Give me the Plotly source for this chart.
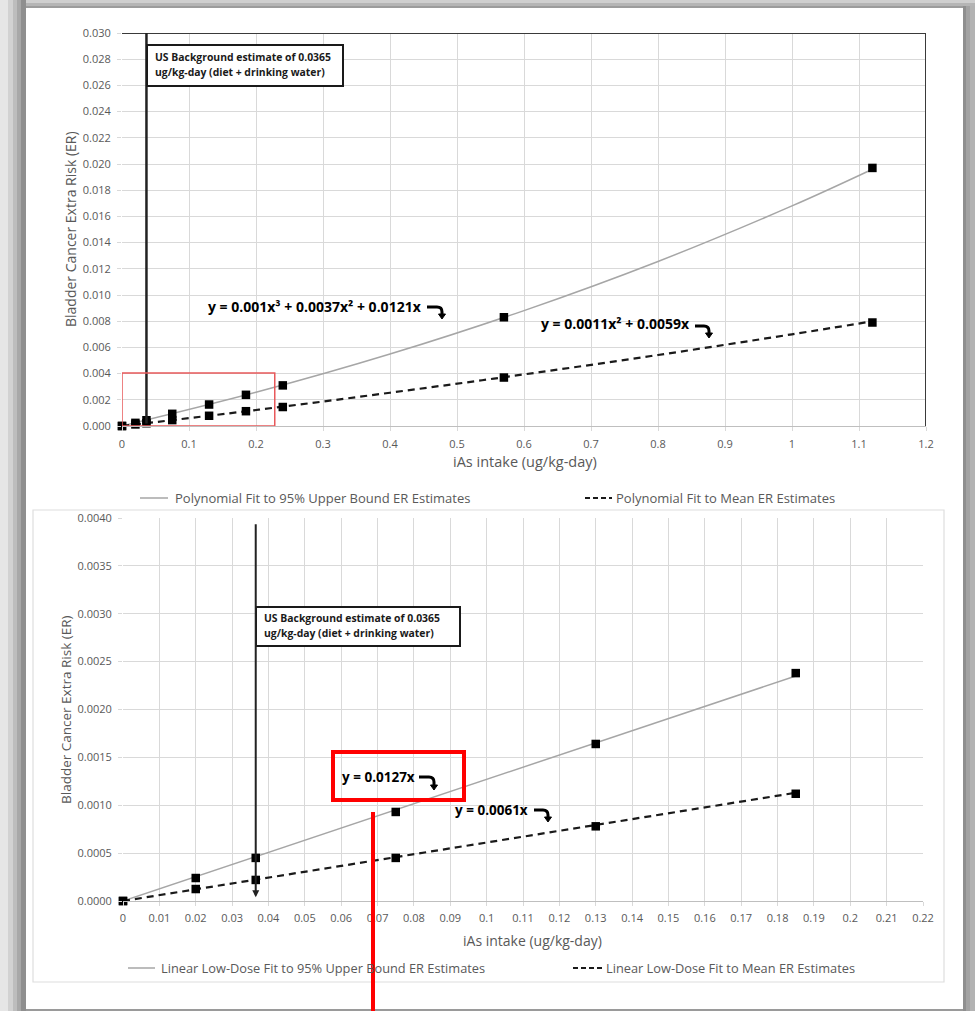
import plotly.graph_objects as go

# ---------------- data ----------------
# dose points (ug/kg-day)
top_x = [0, 0.02, 0.0365, 0.075, 0.13, 0.185, 0.24, 0.57, 1.12]
top_upper = [0, 0.00024, 0.00044, 0.00093, 0.00164, 0.00238, 0.0031, 0.0083, 0.0197]
top_mean = [0, 0.00012, 0.00021, 0.00045, 0.00078, 0.00113, 0.00145, 0.0037, 0.0079]

# fitted curves
fit_x = [0, 0.2, 0.4, 0.6, 0.8, 1.0, 1.12]
fit_upper = [0, 0.00257, 0.00549, 0.00881, 0.01256, 0.0168, 0.0196]
fit_mean = [0, 0.00122, 0.00254, 0.00394, 0.00542, 0.0070, 0.00799]

bot_x = [0, 0.02, 0.0365, 0.075, 0.13, 0.185]
bot_upper = [0, 0.00024, 0.00045, 0.00093, 0.00164, 0.00238]
bot_mean = [0, 0.000125, 0.00022, 0.00045, 0.00078, 0.00112]

lin_x = [0, 0.185]
lin_upper = [0, 0.00235]
lin_mean = [0, 0.00113]

bg_intake = 0.0365

top_xticks = [0, 0.1, 0.2, 0.3, 0.4, 0.5, 0.6, 0.7, 0.8, 0.9, 1.0, 1.1, 1.2]
top_xtext = ["0", "0.1", "0.2", "0.3", "0.4", "0.5", "0.6", "0.7", "0.8", "0.9", "1", "1.1", "1.2"]
top_yticks = [i * 0.002 for i in range(16)]
top_ytext = ["%.3f" % v for v in top_yticks]

bot_xticks = [i / 100 for i in range(23)]
bot_xtext = ["0"] + ["%g" % (i / 100) for i in range(1, 23)]
bot_yticks = [i * 0.0005 for i in range(9)]
bot_ytext = ["%.4f" % v for v in bot_yticks]

title_y = "Bladder Cancer Extra Risk (ER)"
title_x = "iAs intake (ug/kg-day)"
bg_text = ["US Background estimate of 0.0365", "ug/kg-day (diet + drinking water)"]
top_legend = ["Polynomial Fit to 95% Upper Bound ER Estimates", "Polynomial Fit to Mean ER Estimates"]
bot_legend = ["Linear Low-Dose Fit to 95% Upper Bound ER Estimates", "Linear Low-Dose Fit to Mean ER Estimates"]
top_eq = ["y = 0.001x³ + 0.0037x² + 0.0121x", "y = 0.0011x² + 0.0059x"]
bot_eq = ["y = 0.0127x", "y = 0.0061x"]

# ---------------- helpers ----------------
W, H = 975, 1011
FONT = "Open Sans"
TICK_COLOR = "#595959"
GRID = "#d9d9d9"
UP_COLOR = "#a6a6a6"


def px(x):
    return x / W


def py(y):
    return 1 - y / H


fig = go.Figure()

# top chart traces
fig.add_trace(go.Scatter(x=fit_x, y=fit_upper, mode="lines", line=dict(color=UP_COLOR, width=1.5, shape="spline"),
                         xaxis="x", yaxis="y", showlegend=False, hoverinfo="skip"))
fig.add_trace(go.Scatter(x=fit_x, y=fit_mean, mode="lines", line=dict(color="#1a1a1a", width=2.2, dash="7px,5px", shape="spline"),
                         xaxis="x", yaxis="y", showlegend=False, hoverinfo="skip"))
for ys in (top_upper, top_mean):
    fig.add_trace(go.Scatter(x=top_x, y=ys, mode="markers", cliponaxis=False,
                             marker=dict(symbol="square", size=8.5, color="#000000"),
                             xaxis="x", yaxis="y", showlegend=False))

# bottom chart traces
fig.add_trace(go.Scatter(x=lin_x, y=lin_upper, mode="lines", line=dict(color=UP_COLOR, width=1.5),
                         xaxis="x2", yaxis="y2", showlegend=False, hoverinfo="skip"))
fig.add_trace(go.Scatter(x=lin_x, y=lin_mean, mode="lines", line=dict(color="#1a1a1a", width=2.2, dash="7px,5px"),
                         xaxis="x2", yaxis="y2", showlegend=False, hoverinfo="skip"))
for ys in (bot_upper, bot_mean):
    fig.add_trace(go.Scatter(x=bot_x, y=ys, mode="markers", cliponaxis=False,
                             marker=dict(symbol="square", size=8.5, color="#000000"),
                             xaxis="x2", yaxis="y2", showlegend=False))

axis_common = dict(showgrid=True, gridcolor=GRID, gridwidth=1, zeroline=False, automargin=False,
                   ticks="outside", ticklen=4, tickcolor=GRID,
                   tickfont=dict(family=FONT, size=11, color=TICK_COLOR), fixedrange=True)

fig.update_layout(
    width=W, height=H,
    margin=dict(l=0, r=0, t=0, b=0, pad=0),
    paper_bgcolor="#ffffff",
    plot_bgcolor="rgba(0,0,0,0)",
    xaxis=dict(domain=[px(122), px(926)], range=[0, 1.2], anchor="y", ticklabelstandoff=4,
               tickvals=top_xticks, ticktext=top_xtext, showline=True, linecolor="#bfbfbf", **axis_common),
    yaxis=dict(domain=[py(426), py(33)], range=[0, 0.030], anchor="x", ticklabelstandoff=4,
               tickvals=top_yticks, ticktext=top_ytext, **axis_common),
    xaxis2=dict(domain=[px(123), px(923)], range=[0, 0.22], anchor="y2", ticklabelstandoff=3,
                tickvals=bot_xticks, ticktext=bot_xtext, showline=True, linecolor="#bfbfbf", **axis_common),
    yaxis2=dict(domain=[py(901), py(518)], range=[0, 0.004], anchor="x2", ticklabelstandoff=4,
                tickvals=bot_yticks, ticktext=bot_ytext, **axis_common),
)

shapes = []
# outer gray frame (screenshot shadow)
left_strips = [(0, 8, "#e6e6e6"), (8, 13, "#d2d2d2"), (13, 17, "#bdbdbd"), (17, 21, "#a8a8a8"), (21, 26, "#8f8f8f")]
for a, b, c in left_strips:
    shapes.append(dict(type="rect", xref="paper", yref="paper", x0=px(a), x1=px(b), y0=0, y1=1,
                       line=dict(width=0), fillcolor=c, layer="below"))
top_strips = [(0, 3, "#cfcfcf"), (3, 6, "#b5b5b5"), (6, 8, "#9c9c9c")]
for a, b, c in top_strips:
    shapes.append(dict(type="rect", xref="paper", yref="paper", x0=px(26), x1=1, y0=py(b), y1=py(a),
                       line=dict(width=0), fillcolor=c, layer="below"))
right_strips = [(963, 966, "#8f8f8f"), (966, 970, "#a3a3a3"), (970, 975, "#b3b3b3")]
for a, b, c in right_strips:
    shapes.append(dict(type="rect", xref="paper", yref="paper", x0=px(a), x1=px(b), y0=0, y1=py(6),
                       line=dict(width=0), fillcolor=c, layer="below"))
shapes.append(dict(type="rect", xref="paper", yref="paper", x0=px(26), x1=px(963), y0=0, y1=py(1009),
                   line=dict(width=0), fillcolor="#9a9a9a", layer="below"))

# bottom chart frame
shapes.append(dict(type="rect", xref="paper", yref="paper", x0=px(33), x1=px(944), y0=py(982), y1=py(510),
                   line=dict(color="#dedede", width=1.2), layer="below"))

# top chart dark border (top and right)
shapes.append(dict(type="line", xref="x", yref="y", x0=0, x1=1.2, y0=0.030, y1=0.030,
                   line=dict(color="#3a3a3a", width=2)))
shapes.append(dict(type="line", xref="x", yref="y", x0=1.2, x1=1.2, y0=0, y1=0.030,
                   line=dict(color="#3a3a3a", width=2)))

# background intake vertical line (top chart)
shapes.append(dict(type="line", xref="x", yref="y", x0=bg_intake, x1=bg_intake, y0=0.0002, y1=0.030,
                   line=dict(color="#222222", width=2.5)))

# red highlight box (top chart) around low-dose region
shapes.append(dict(type="rect", xref="x", yref="y", x0=0, x1=0.228, y0=0, y1=0.00405,
                   line=dict(color="#e8595b", width=1.5)))

# text boxes
shapes.append(dict(type="rect", xref="paper", yref="paper", x0=px(147), x1=px(343), y0=py(86), y1=py(45),
                   line=dict(color="#1a1a1a", width=2), fillcolor="#ffffff"))
shapes.append(dict(type="rect", xref="paper", yref="paper", x0=px(256), x1=px(460), y0=py(646), y1=py(607),
                   line=dict(color="#1a1a1a", width=2), fillcolor="#ffffff"))

# legend samples
shapes.append(dict(type="line", xref="paper", yref="paper", x0=px(140), x1=px(168), y0=py(498), y1=py(498),
                   line=dict(color=UP_COLOR, width=1.5)))
shapes.append(dict(type="line", xref="paper", yref="paper", x0=px(585), x1=px(612), y0=py(498), y1=py(498),
                   line=dict(color="#1a1a1a", width=2.2, dash="5px,3px")))
shapes.append(dict(type="line", xref="paper", yref="paper", x0=px(128), x1=px(155), y0=py(968), y1=py(968),
                   line=dict(color=UP_COLOR, width=1.5)))
shapes.append(dict(type="line", xref="paper", yref="paper", x0=px(573), x1=px(603), y0=py(968), y1=py(968),
                   line=dict(color="#1a1a1a", width=2.2, dash="5px,3px")))


def hook(xs, xe, yt, ytip):
    r = 5
    path = "M %f,%f L %f,%f Q %f,%f %f,%f L %f,%f" % (
        px(xs), py(yt), px(xe - r), py(yt), px(xe), py(yt), px(xe), py(yt + r), px(xe), py(ytip - 4))
    head = "M %f,%f L %f,%f L %f,%f Z" % (
        px(xe - 3.5), py(ytip - 5), px(xe + 3.5), py(ytip - 5), px(xe), py(ytip))
    return [dict(type="path", xref="paper", yref="paper", path=path, line=dict(color="#000000", width=3)),
            dict(type="path", xref="paper", yref="paper", path=head, line=dict(color="#000000", width=1),
                 fillcolor="#000000")]


shapes += hook(427, 442, 307, 319)
shapes += hook(695, 709, 326, 338)
shapes += hook(419, 434, 777, 790)
shapes += hook(534, 548, 810, 822)

# red annotation box + line (bottom chart)
shapes.append(dict(type="rect", xref="paper", yref="paper", x0=px(333), x1=px(464), y0=py(800), y1=py(752),
                   line=dict(color="#ff0000", width=4)))
shapes.append(dict(type="line", xref="paper", yref="paper", x0=px(373), x1=px(373), y0=py(812), y1=0,
                   line=dict(color="#ff0000", width=4)))

fig.update_layout(shapes=shapes)

ann = []


def text(x, y, s, size=10, color="#000000", xanchor="left", bold=False, angle=0, yanchor="middle"):
    ann.append(dict(xref="paper", yref="paper", x=px(x), y=py(y), text=("<b>%s</b>" % s) if bold else s,
                    showarrow=False, xanchor=xanchor, yanchor=yanchor, textangle=angle,
                    font=dict(family=FONT, size=size, color=color)))


# axis titles
text(70, 229, title_y, size=14, color=TICK_COLOR, xanchor="center", angle=-90)
text(66, 710, title_y, size=13.5, color=TICK_COLOR, xanchor="center", angle=-90)
text(525, 461, title_x, size=14.5, color=TICK_COLOR, xanchor="center")
text(532, 940, title_x, size=14, color=TICK_COLOR, xanchor="center")

# legends
text(173, 498, top_legend[0], size=13, color=TICK_COLOR)
text(614, 498, top_legend[1], size=13, color=TICK_COLOR)
text(159, 968, bot_legend[0], size=12.8, color=TICK_COLOR)
text(604, 968, bot_legend[1], size=12.8, color=TICK_COLOR)

# background boxes text
text(153, 57, bg_text[0], size=10.4, bold=True, color="#1a1a1a")
text(153, 72, bg_text[1], size=10.4, bold=True, color="#1a1a1a")
text(262, 618, bg_text[0], size=10.4, bold=True, color="#1a1a1a")
text(262, 633, bg_text[1], size=10.4, bold=True, color="#1a1a1a")

# equations
text(424, 306, top_eq[0], size=14, bold=True, xanchor="right")
text(692, 324, top_eq[1], size=14, bold=True, xanchor="right")
text(417, 777, bot_eq[0], size=13.5, bold=True, xanchor="right")
text(530, 810, bot_eq[1], size=13.5, bold=True, xanchor="right")

# bottom-chart background line with arrow
ann.append(dict(xref="x2", yref="y2", x=bg_intake, y=0.00004, axref="x2", ayref="y2",
                ax=bg_intake, ay=0.00395, text="", showarrow=True, arrowhead=2, arrowsize=0.7,
                arrowwidth=2, arrowcolor="#222222"))

fig.update_layout(annotations=ann)

fig.write_html("out.html", config={"displayModeBar": False},
               post_script="document.body.style.margin='0';document.body.style.padding='0';"
                           "document.body.style.overflow='hidden';")
